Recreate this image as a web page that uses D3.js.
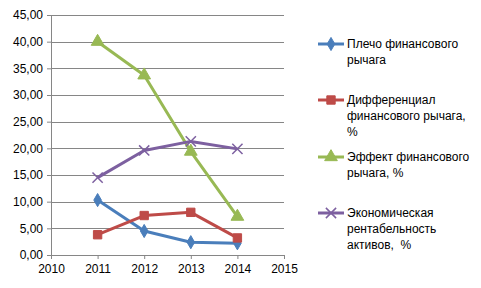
<!DOCTYPE html>
<html>
<head>
<meta charset="utf-8">
<script src="https://cdn.jsdelivr.net/npm/d3@7"></script>
<style>
  body { margin: 0; background: #fff; }
  text { font-family: "Liberation Sans", Arial, sans-serif; fill: #000; }
</style>
</head>
<body>
<div id="chart"></div>
<script>
// Data
const years = [2011, 2012, 2013, 2014]
const yTicks = [0, 5, 10, 15, 20, 25, 30, 35, 40, 45]
const xTicks = [2010, 2011, 2012, 2013, 2014, 2015]

const seriesNames = [
    ["Плечо финансового", "рычага"],
    ["Дифференциал", "финансового рычага,", "%"],
    ["Эффект финансового", "рычага, %"],
    ["Экономическая", "рентабельность", "активов,  %"],
]
const leverage = [10.3, 4.5, 2.4, 2.2]
const differential = [3.8, 7.4, 8.0, 3.2]
const effect = [40.0, 33.7, 19.4, 7.2]
const profitability = [14.5, 19.6, 21.3, 19.9]

const seriesValues = [leverage, differential, effect, profitability]
const seriesColors = ["#4a7ebb", "#be4b48", "#98b954", "#7d60a0"]
const seriesSymbols = ["diamond", "square", "triangle", "cross"]

// Dimensions
let dimensions = {
    width: 481,
    height: 288,
    margin: { top: 15, right: 197, bottom: 33, left: 51 },
}
dimensions.boundedWidth = dimensions.width - dimensions.margin.left - dimensions.margin.right
dimensions.boundedHeight = dimensions.height - dimensions.margin.top - dimensions.margin.bottom

const svg = d3.select("#chart").append("svg")
    .attr("width", dimensions.width)
    .attr("height", dimensions.height)
const bounds = svg.append("g")
    .attr("transform", `translate(${dimensions.margin.left},${dimensions.margin.top})`)

// Scales
const xScale = d3.scaleLinear().domain([2010, 2015]).range([0, dimensions.boundedWidth])
const yScale = d3.scaleLinear().domain([0, 45]).range([dimensions.boundedHeight, 0])

// Grid
bounds.append("g").selectAll("line")
    .data(yTicks.filter(d => d > 0))
    .join("line")
    .attr("x1", 0).attr("x2", dimensions.boundedWidth)
    .attr("y1", d => Math.round(yScale(d)) + 0.5)
    .attr("y2", d => Math.round(yScale(d)) + 0.5)
    .attr("stroke", "#868686").attr("stroke-width", 1)

// Axes
const fmt = d => d3.format(".2f")(d).replace(".", ",")
const yAxis = bounds.append("g")
    .call(d3.axisLeft(yScale).tickValues(yTicks).tickFormat(fmt).tickSize(4).tickPadding(4))
const xAxis = bounds.append("g")
    .attr("transform", `translate(0,${dimensions.boundedHeight})`)
    .call(d3.axisBottom(xScale).tickValues(xTicks).tickFormat(d3.format("d")).tickSize(4).tickPadding(5))
for (const ax of [xAxis, yAxis]) {
    ax.select(".domain").attr("stroke", "#868686")
    ax.selectAll(".tick line").attr("stroke", "#868686")
    ax.selectAll("text").style("font-size", "12px")
        .style("font-family", "'Liberation Sans', Arial, sans-serif").attr("fill", "#000")
}

// Lines and markers
const symbolFor = {
    diamond: d3.symbol().type(d3.symbolDiamond).size(50),
    square: d3.symbol().type(d3.symbolSquare).size(70),
    triangle: d3.symbol().type(d3.symbolTriangle).size(70),
    cross: d3.symbol().type(d3.symbolTimes).size(70),
}
const line = d3.line().x((d, i) => xScale(years[i])).y(d => yScale(d))

seriesValues.forEach((vals, s) => {
    const g = bounds.append("g")
    g.append("path")
        .attr("d", line(vals))
        .attr("fill", "none")
        .attr("stroke", seriesColors[s])
        .attr("stroke-width", 3)
        .attr("stroke-linejoin", "round")
    g.selectAll("path.marker")
        .data(vals)
        .join("path")
        .attr("class", "marker")
        .attr("transform", (d, i) => `translate(${xScale(years[i])},${yScale(d)})`)
        .attr("d", symbolFor[seriesSymbols[s]]())
        .attr("fill", seriesSymbols[s] === "cross" ? "none" : seriesColors[s])
        .attr("stroke", seriesColors[s])
        .attr("stroke-width", seriesSymbols[s] === "cross" ? 1.5 : 1)
})

// Legend
const legendRows = [44, 100, 157, 213]
const legend = svg.append("g")
seriesNames.forEach((lines, s) => {
    const y = legendRows[s]
    const g = legend.append("g").attr("transform", `translate(318,${y})`)
    g.append("line").attr("x1", 0).attr("x2", 26).attr("y1", 0).attr("y2", 0)
        .attr("stroke", seriesColors[s]).attr("stroke-width", 3)
    g.append("path").attr("transform", "translate(13,0)")
        .attr("d", symbolFor[seriesSymbols[s]]())
        .attr("fill", seriesSymbols[s] === "cross" ? "none" : seriesColors[s])
        .attr("stroke", seriesColors[s])
        .attr("stroke-width", seriesSymbols[s] === "cross" ? 1.5 : 1)
    g.append("text")
        .attr("x", 29)
        .attr("y", 4)
        .style("font-size", "12px")
        .style("white-space", "pre")
        .selectAll("tspan")
        .data(lines)
        .join("tspan")
        .attr("x", 29)
        .attr("dy", (d, i) => i === 0 ? 0 : 16)
        .text(d => d)
})
</script>
</body>
</html>
